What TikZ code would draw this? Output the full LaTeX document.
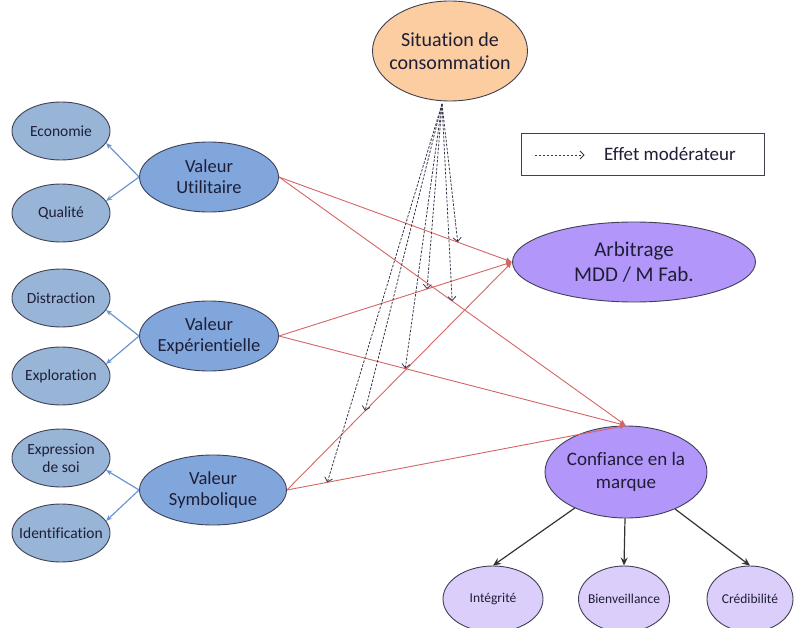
\documentclass[tikz,border=0pt]{standalone}
\usepackage{fontspec}
\setmainfont[Ligatures=NoCommon]{Carlito}
\usetikzlibrary{shapes.geometric,arrows.meta,calc}

\definecolor{bluelight}{RGB}{152,181,216}
\definecolor{bluemid}{RGB}{128,166,220}
\definecolor{peach}{RGB}{251,205,160}
\definecolor{lavender}{RGB}{178,150,250}
\definecolor{lavlight}{RGB}{220,206,250}
\definecolor{rededge}{RGB}{214,100,100}
\definecolor{blueedge}{RGB}{105,150,210}
\definecolor{inkcol}{RGB}{30,30,55}

\tikzstyle{sub}=[ellipse,draw=inkcol!85,line width=0.9pt,fill=bluelight,minimum width=98pt,minimum height=58pt,inner xsep=-14pt,inner ysep=-6pt,align=center,text=inkcol,font=\fontsize{15.5}{17.5}\selectfont]
\tikzstyle{value}=[sub,fill=bluemid,minimum width=139pt,minimum height=70pt,font=\fontsize{18.5}{21}\selectfont]
\tikzstyle{outcome}=[sub,fill=lavender,font=\fontsize{20}{23}\selectfont]
\tikzstyle{facet}=[sub,fill=lavlight,minimum height=66pt,font=\fontsize{13.5}{16}\selectfont]
\tikzstyle{blue arrow}=[draw=blueedge,line width=1.2pt,-{Stealth[length=6pt,width=5pt]}]
\tikzstyle{red arrow}=[draw=rededge,line width=0.9pt,-{Latex[length=6pt,width=5pt]}]
\tikzstyle{mod arrow}=[draw=inkcol!90,line width=0.8pt,dash pattern=on 2.5pt off 1.5pt,-{Straight Barb[length=4pt,width=8pt]}]
\tikzstyle{black arrow}=[draw=black!80,line width=1.2pt,-{Stealth[length=8pt,width=7pt]}]

\begin{document}
\begin{tikzpicture}[x=1pt,y=-1pt]
    \useasboundingbox (0,0) rectangle (797,628);

    % dimensions
    \foreach \pos/\name/\txt in {{(61,131)/eco/Economie}, {(61,213)/qual/Qualité},
                                 {(61,298)/dist/Distraction}, {(61,376)/expl/Exploration},
                                 {(61,458)/expr/{Expression\\de soi}}, {(61,533)/iden/Identification}}
        \node[sub] (\name) at \pos {\txt};

    \node[value] (vu) at (209,177) {Valeur\\Utilitaire};
    \node[value] (ve) at (209,336) {Valeur\\Expérientielle};
    \node[value,minimum width=147pt] (vs) at (213,490) {Valeur\\Symbolique};

    \node[sub,fill=peach,minimum width=155pt,minimum height=100pt,font=\fontsize{20}{23}\selectfont] (sit) at (450,51) {Situation de\\consommation};
    \node[outcome,minimum width=243pt,minimum height=80pt,font=\fontsize{21}{25}\selectfont] (arb) at (634,262) {Arbitrage\\MDD / M Fab.};
    \node[outcome,minimum width=162pt,minimum height=92pt,font=\fontsize{19}{23}\selectfont] (conf) at (626,472) {Confiance en la\\marque};

    \foreach \pos/\name/\txt/\ewidth in {{(493,599)/int/Intégrité/100}, {(624,599)/bien/Bienveillance/91},
                                         {(750,599)/cred/Crédibilité/86}}
        \node[facet,minimum width=\ewidth pt] (\name) at \pos {\txt};

    % legend
    \node[draw=inkcol!85,line width=0.9pt,minimum width=243pt,minimum height=42pt,inner sep=0pt] (legend) at (642.5,154) {};
    \coordinate (legA) at ($(legend.west)+(14,1)$);
    \coordinate (legB) at ($(legend.west)+(64,1)$);
    \draw[mod arrow] (legA) -- (legB);
    \node[text=inkcol,font=\fontsize{19}{23}\selectfont,anchor=west] (legtext) at ($(legend.west)+(80,0)$) {Effet modérateur};

    % connectors
    \foreach \source/\dest/\ang in {vu/eco/-15, vu/qual/15, ve/dist/-15, ve/expl/15, vs/expr/-15, vs/iden/15}
        \draw[blue arrow] (\source.west) -- (\dest.\ang);
    \foreach \source in {vu,ve,vs}{
        \draw[red arrow] (\source.east) -- (arb.west);
        \draw[red arrow] (\source.east) -- (conf.north);
    }
    \coordinate (modsrc) at (442,104);
    \foreach \source/\dest/\t in {vu/arb.west/0.767, ve/arb.west/0.635, vs/arb.west/0.347,
                                  vu/conf.north/0.499, ve/conf.north/0.364, vs/conf.north/0.119}
        \draw[mod arrow] (modsrc) -- ($(\source.east)!\t!(\dest)$);
    \foreach \dest in {int,bien,cred}
        \draw[black arrow] (conf) -- (\dest.north);
\end{tikzpicture}
\end{document}
